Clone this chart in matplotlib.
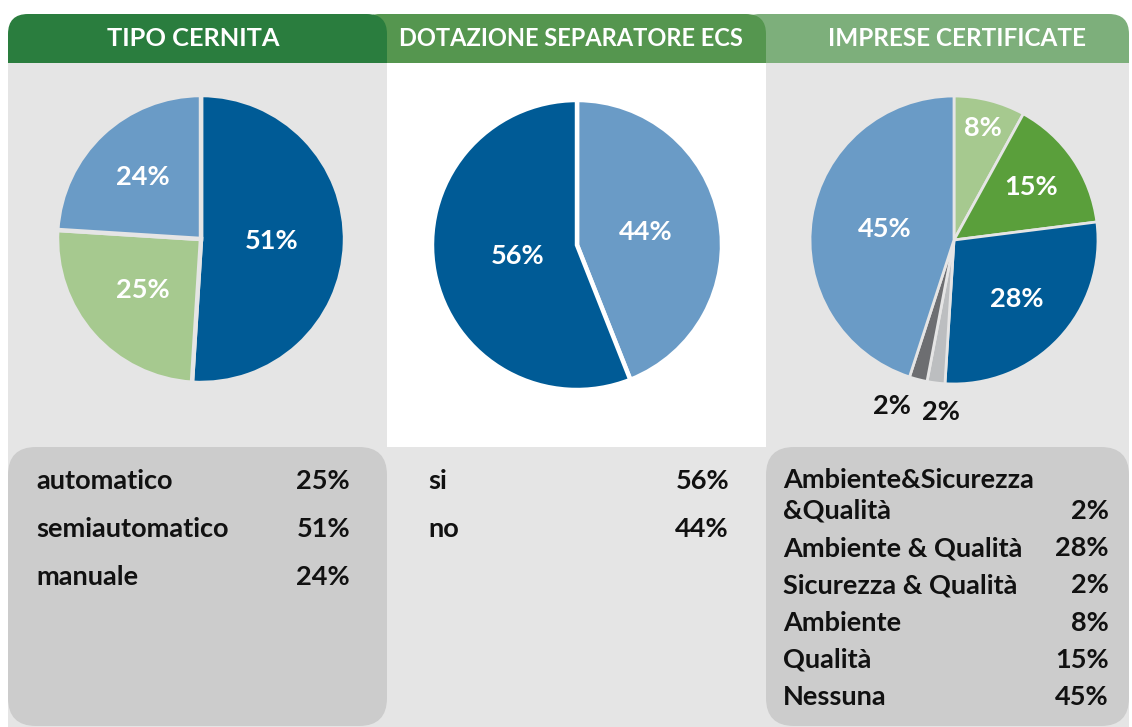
import matplotlib
matplotlib.use('Agg')
import matplotlib.pyplot as plt
from matplotlib.patches import FancyBboxPatch, Rectangle
import numpy as np

plt.rcParams['font.family'] = ['Lato', 'DejaVu Sans']

# ---------------- data ----------------
titles = ['TIPO CERNITA', 'DOTAZIONE SEPARATORE ECS', 'IMPRESE CERTIFICATE']

cernita_labels = ['automatico', 'semiautomatico', 'manuale']
cernita_values = [25, 51, 24]
cernita_pie_order = [1, 0, 2]

ecs_labels = ['si', 'no']
ecs_values = [56, 44]
ecs_pie_order = [1, 0]

cert_labels = ['Ambiente&Sicurezza\n&Qualità', 'Ambiente & Qualità',
               'Sicurezza & Qualità', 'Ambiente', 'Qualità', 'Nessuna']
cert_values = [2, 28, 2, 8, 15, 45]
cert_pie_order = [3, 4, 1, 2, 0, 5]

# ---------------- style ----------------
W, H = 1132, 727
DARK_BLUE = '#005b96'
LIGHT_BLUE = '#6a9bc6'
LIGHT_GREEN = '#a6c98f'
MID_GREEN = '#5a9f3b'
DARK_GRAY = '#6d6e71'
LIGHT_GRAY = '#bcbec0'
BODY = '#e5e5e5'
BOX = '#cccccc'
TAB_COLORS = ['#2a7d3e', '#55964f', '#7daf7b']
TXT = '#111111'
FS_HEAD = [18.3, 17, 17.5]
FS_PIE = 19.5
FS_LEG = 19.5
WEIGHT = 'bold'

cernita_colors = {0: LIGHT_GREEN, 1: DARK_BLUE, 2: LIGHT_BLUE}
ecs_colors = {0: DARK_BLUE, 1: LIGHT_BLUE}
cert_colors = {0: DARK_GRAY, 1: DARK_BLUE, 2: LIGHT_GRAY, 3: LIGHT_GREEN,
               4: MID_GREEN, 5: LIGHT_BLUE}


def Y(y):
    return H - y


fig = plt.figure(figsize=(W / 100, H / 100), dpi=100)
ax = fig.add_axes([0, 0, 1, 1])

# ---- header tabs ----
tabs = [(8, 387), (360, 766), (740, 1129)]
for i in [2, 1, 0]:
    x0, x1 = tabs[i]
    ax.add_patch(FancyBboxPatch((x0, Y(90)), x1 - x0, 76,
                                boxstyle='round,pad=0,rounding_size=20',
                                fc=TAB_COLORS[i], ec='none', zorder=1 + (2 - i)))
tab_text_x = [193, 571, 957]
for i, t in enumerate(titles):
    ax.text(tab_text_x[i], Y(39), t, color='white', fontsize=FS_HEAD[i], fontweight=WEIGHT,
            ha='center', va='center', zorder=10)

# ---- bodies ----
ax.add_patch(Rectangle((8, 0), 379, Y(63), fc=BODY, ec='none', zorder=4))
ax.add_patch(Rectangle((387, Y(447)), 379, 447 - 63, fc='white', ec='none', zorder=4))
ax.add_patch(Rectangle((387, 0), 379, Y(447), fc=BODY, ec='none', zorder=4))
ax.add_patch(Rectangle((766, 0), 1129 - 766, Y(63), fc=BODY, ec='none', zorder=4))

# ---- bottom boxes ----
ax.add_patch(FancyBboxPatch((8, Y(726)), 379, 726 - 447,
                            boxstyle='round,pad=0,rounding_size=28',
                            fc=BOX, ec='none', zorder=5))
ax.add_patch(FancyBboxPatch((766, Y(726)), 1129 - 766, 726 - 447,
                            boxstyle='round,pad=0,rounding_size=28',
                            fc=BOX, ec='none', zorder=5))


# ---- pies ----
def draw_pie(values, order, colors, center, radius, dists, bg, lw=3.2, explode=None,
             label_colors=None, angle_shift=None):
    vals = [values[k] for k in order]
    cols = [colors[k] for k in order]
    wedges, _ = ax.pie(vals, colors=cols, startangle=90, counterclock=False,
                       center=(center[0], Y(center[1])), radius=radius,
                       explode=explode,
                       wedgeprops=dict(edgecolor=bg, linewidth=lw))
    for j, w in enumerate(wedges):
        w.set_zorder(6)
        th = np.deg2rad((w.theta1 + w.theta2) / 2 + (angle_shift[j] if angle_shift else 0))
        cx, cy = w.center
        d = dists[j] * radius
        c = label_colors[j] if label_colors else 'white'
        ax.text(cx + d * np.cos(th), cy + d * np.sin(th), f'{vals[j]}%',
                color=c, fontsize=FS_PIE, fontweight=WEIGHT, ha='center', va='center',
                zorder=10)


draw_pie(cernita_values, cernita_pie_order, cernita_colors, (201, 239), 144,
         [0.49, 0.54, 0.59], BODY)
draw_pie(ecs_values, ecs_pie_order, ecs_colors, (577, 245), 145,
         [0.48, 0.42], 'white', explode=[0.015, 0])
draw_pie(cert_values, cert_pie_order, cert_colors, (954, 240), 144,
         [0.8, 0.65, 0.6, 1.2, 1.23, 0.49], BODY, lw=2.0,
         explode=[0, 0, 0, 0.08, 0.08, 0],
         label_colors=['white', 'white', 'white', TXT, TXT, 'white'],
         angle_shift=[0, 0, 0, 3, -6, 0])

# ---- legends ----
def legend(labels, values, x_lab, x_val, y0, step, line_step=31):
    y = y0
    for lab, v in zip(labels, values):
        lines = lab.split('\n')
        for k, ln in enumerate(lines):
            ax.text(x_lab, Y(y - (len(lines) - 1 - k) * line_step), ln, color=TXT,
                    fontsize=FS_LEG, fontweight=WEIGHT, ha='left', va='center', zorder=10)
        ax.text(x_val, Y(y), f'{v}%', color=TXT, fontsize=FS_LEG, fontweight=WEIGHT,
                ha='right', va='center', zorder=10)
        y += step


legend(cernita_labels, cernita_values, 36, 350, 481, 48)
legend(ecs_labels, ecs_values, 428, 729, 481, 48)
legend(cert_labels, cert_values, 783, 1109, 511, 37.2)

ax.set_xlim(0, W)
ax.set_ylim(0, H)
ax.set_aspect('auto')
ax.axis('off')
fig.savefig('out.png', dpi=100, facecolor='white')
